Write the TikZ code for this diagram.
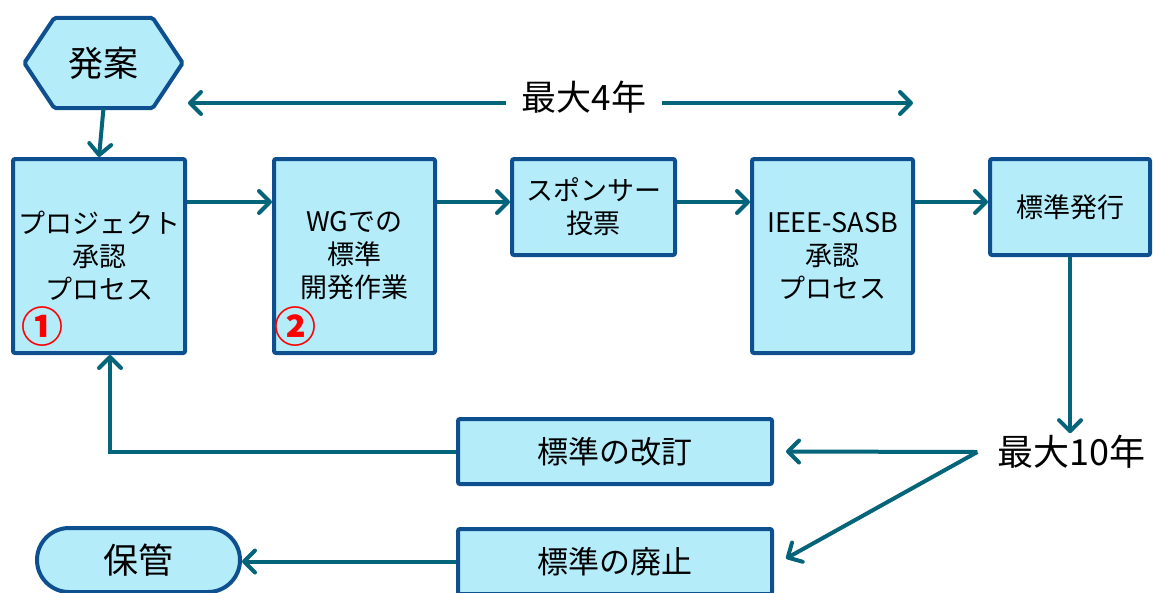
\documentclass[tikz,border=0pt]{standalone}
\usepackage{fontspec}
\setmainfont{Noto Sans CJK JP}
\usetikzlibrary{arrows.meta,backgrounds}
\definecolor{boxfill}{HTML}{B4ECFA}
\definecolor{boxline}{HTML}{0D4F8F}
\definecolor{flowc}{HTML}{04647A}

\begin{document}
\begin{tikzpicture}[x=1pt,y=-1pt,
    >={Straight Barb[length=11pt,width=22pt,round]},
    stepbox/.style={draw=boxline,fill=boxfill,line width=4pt,rounded corners=2pt,
      align=center,inner sep=0pt,font=\fontsize{27}{33}\selectfont},
    bigtext/.style={font=\fontsize{35}{40}\selectfont},
    link/.style={->,draw=flowc,line width=4pt},
    num/.style={text=red,font=\fontsize{42}{46}\selectfont\bfseries}]
  \useasboundingbox (0,0) rectangle (1153,592);
  \coordinate (row) at (0,202);
  \coordinate (span l) at (188,103);
  \coordinate (span r) at (913,103);
  \node[bigtext,minimum width=158pt,minimum height=90pt,inner sep=0pt] (idea) at (103.5,63) {発案};
  \begin{scope}[on background layer]
    \draw[draw=boxline,fill=boxfill,line width=4pt,rounded corners=2pt]
      (idea.west) -- ([xshift=30pt]idea.north west) -- ([xshift=-30pt]idea.north east)
      -- (idea.east) -- ([xshift=-30pt]idea.south east) -- ([xshift=30pt]idea.south west) -- cycle;
  \end{scope}
  \node[stepbox,minimum width=172pt,minimum height=194pt] (b1) at (99,256) {プロジェクト\\承認\\プロセス};
  \node[stepbox,minimum width=161pt,minimum height=194pt] (b2) at (354.5,256) {WGでの\\標準\\開発作業};
  \node[stepbox,minimum width=163pt,minimum height=96pt] (b3) at (593.5,207) {スポンサー\\投票};
  \node[stepbox,minimum width=161pt,minimum height=194pt] (b4) at (832.5,256) {IEEE-SASB\\承認\\プロセス};
  \node[stepbox,minimum width=160pt,minimum height=96pt] (b5) at (1070,207) {標準発行};
  \node[num] (n1) at (42,327) {①};
  \node[num] (n2) at (295,327) {②};
  \node[stepbox,font=\fontsize{31}{36}\selectfont,minimum width=314pt,minimum height=65pt] (rev) at (615,451.5) {標準の改訂};
  \node[stepbox,font=\fontsize{31}{36}\selectfont,minimum width=314pt,minimum height=65pt] (wd) at (615,561.5) {標準の廃止};
  \node[stepbox,bigtext,rounded corners=32pt,minimum width=203pt,minimum height=64pt] (arch) at (138.5,560) {保管};
  \node[font=\fontsize{36}{40}\selectfont,inner sep=2pt] (ten) at (1071.5,452) {最大10年};
  \coordinate (split) at ([xshift=-18pt]ten.west);
  \draw[link] (idea.south) -- (b1.north);
  \draw[link] (b1.east |- row) -- (b2.west |- row);
  \draw[link] (b2.east |- row) -- (b3.west |- row);
  \draw[link] (b3.east |- row) -- (b4.west |- row);
  \draw[link] (b4.east |- row) -- (b5.west |- row);
  \draw[link] (b5.south) -- (b5.south |- ten.north);
  \draw[link] (split) -- ([xshift=12pt]rev.east);
  \draw[link] (split) -- ([xshift=12pt,yshift=3pt]wd.east);
  \draw[link] (rev.west) -| ([xshift=11pt]b1.south);
  \draw[link] (wd.west) -- (arch.east |- wd.west);
  \draw[link,<->] (span l) -- (span r);
  \node[bigtext,fill=white,inner xsep=16pt,inner ysep=2pt] (four) at (584,97) {最大4年};
\end{tikzpicture}
\end{document}
